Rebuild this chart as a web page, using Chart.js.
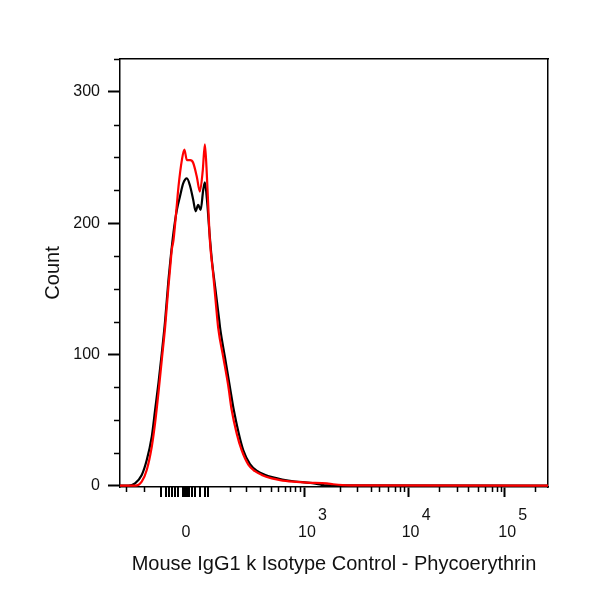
<!DOCTYPE html>
<html>
<head>
<meta charset="utf-8">
<script src="https://cdn.jsdelivr.net/npm/chart.js@4.4.1/dist/chart.umd.min.js"></script>
<style>
  html, body { margin: 0; padding: 0; background: #fff; }
  #wrap { width: 600px; height: 600px; position: relative; }
</style>
</head>
<body>
<div id="wrap"><canvas id="histo"></canvas></div>
<script>
// ================ data (x in display channels 0-1024, y in counts) ================
const blackChannel = [0, 20, 36, 52, 64, 76, 84, 92, 100, 108, 116, 120, 128, 136, 144, 151, 160, 167, 175, 181, 187, 193, 199, 203, 208, 214, 220, 227, 237, 240, 251, 263, 272, 284, 295, 311, 328, 345, 366, 388, 419, 455, 478, 495, 1024];
const blackCount   = [0, 0, 1.8, 8.2, 19.6, 37.4, 57.7, 78.1, 101, 126, 157, 170, 193, 210, 221, 230, 234, 229, 218, 209, 214, 210, 225, 231, 218, 193, 171, 153, 127, 119, 98, 75, 58, 40, 27, 16.5, 11.2, 8.5, 6.3, 4.7, 3.2, 2.1, 0.9, 0.2, 0];

const redChannel = [0, 36, 52, 64, 76, 84, 92, 100, 108, 116, 120, 124, 128, 136, 140, 148, 154, 160, 168, 175, 184, 191, 198, 203, 207, 211, 215, 223, 229, 235, 247, 259, 267, 279, 291, 307, 323, 339, 363, 383, 414, 447, 495, 510, 550, 1024];
const redCount   = [0, 0, 3.1, 12, 29.7, 47.8, 70.7, 95.9, 121, 152, 166, 180, 187, 214, 228, 248, 256, 248, 248, 246, 235, 224, 240, 260, 242, 214, 187, 161, 140, 120, 98, 76, 58, 40, 27, 16, 11, 8.2, 5.6, 4.3, 3.1, 2.3, 1.8, 1.1, 0.2, 0];

// axis ticks (x positions in display channels)
const xTickPos    = [158, 442, 690, 921];
const xTickLabels = ['0', '10^3', '10^4', '10^5'];
const xZeroTicks  = [99, 111, 117, 124, 131, 139, 151, 156, 160, 165, 172, 180, 191, 203, 211];
const xMinorTicks = [15, 57, 263, 302, 334, 362, 378, 394, 406, 418, 430,
                     526, 568, 600, 620, 640, 658, 670, 680,
                     764, 806, 833, 857, 873, 889, 901, 911, 993];
const yTickPos    = [0, 100, 200, 300];
const yMinorTicks = [25, 50, 75, 125, 150, 175, 225, 250, 275, 325];

const xTitle = 'Mouse IgG1 k Isotype Control - Phycoerythrin';
const yTitle = 'Count';

// ================ helpers ================
function toPoints(xs, ys) {
    return xs.map((x, i) => ({ x: x, y: ys[i] }));
}

// "10^3" -> two lines: exponent above, base below
function formatTick(label) {
    if (label.indexOf('^') < 0) return ['', label];
    const parts = label.split('^');
    return ['        ' + parts[1], ' ' + parts[0]];
}

const minorTicks = {
    id: 'minorTicks',
    afterDraw(chart) {
        const ctx = chart.ctx;
        const xs = chart.scales.x;
        const ys = chart.scales.y;
        ctx.save();
        ctx.strokeStyle = '#000';
        ctx.lineWidth = 1.5;
        ctx.beginPath();
        xMinorTicks.forEach(v => {
            const px = Math.round(xs.getPixelForValue(v)) + 0.5;
            ctx.moveTo(px, xs.top);
            ctx.lineTo(px, xs.top + 5);
        });
        yMinorTicks.forEach(v => {
            const py = Math.round(ys.getPixelForValue(v)) + 0.5;
            ctx.moveTo(ys.right, py);
            ctx.lineTo(ys.right - 6, py);
        });
        ctx.stroke();
        ctx.lineWidth = 2;
        ctx.beginPath();
        xZeroTicks.forEach(v => {
            const px = Math.round(xs.getPixelForValue(v));
            ctx.moveTo(px, xs.top);
            ctx.lineTo(px, xs.top + 10);
        });
        ctx.stroke();
        ctx.restore();
    }
};

Chart.defaults.font.family = '"Liberation Sans", Arial, sans-serif';
Chart.defaults.color = '#111';

const ctx = document.getElementById('histo').getContext('2d');
new Chart(ctx, {
    type: 'line',
    data: {
        datasets: [{
            label: 'PE',
            data: toPoints(redChannel, redCount),
            borderColor: '#ff0000',
            borderWidth: 2.2,
            pointRadius: 0,
            cubicInterpolationMode: 'monotone',
            fill: false,
            order: 0
        }, {
            label: 'Isotype',
            data: toPoints(blackChannel, blackCount),
            borderColor: '#000000',
            borderWidth: 2.2,
            pointRadius: 0,
            cubicInterpolationMode: 'monotone',
            fill: false,
            order: 1
        }]
    },
    options: {
        responsive: true,
        maintainAspectRatio: false,
        animation: false,
        layout: { padding: 0 },
        plugins: {
            legend: { display: false },
            tooltip: { enabled: false }
        },
        scales: {
            x: {
                type: 'linear',
                position: 'bottom',
                min: 0,
                max: 1024,
                afterFit: (s) => { s.height = 113; },
                afterBuildTicks: (s) => { s.ticks = xTickPos.map(v => ({ value: v })); },
                ticks: {
                    autoSkip: false,
                    maxRotation: 0,
                    padding: 10,
                    font: { size: 16, lineHeight: 1.05 },
                    color: '#111',
                    callback: (value, index) => formatTick(xTickLabels[index])
                },
                grid: {
                    display: true,
                    drawOnChartArea: false,
                    drawTicks: true,
                    tickLength: 10,
                    tickWidth: 2,
                    tickColor: '#000'
                },
                border: { display: true, color: '#000', width: 1.5 },
                title: {
                    display: true,
                    text: xTitle,
                    font: { size: 20 },
                    color: '#111',
                    padding: { top: 0, bottom: 24 }
                }
            },
            y: {
                type: 'linear',
                position: 'left',
                min: -1,
                max: 325,
                afterFit: (s) => { s.width = 120; },
                afterBuildTicks: (s) => { s.ticks = yTickPos.map(v => ({ value: v })); },
                ticks: {
                    padding: 8,
                    font: { size: 16 },
                    color: '#111'
                },
                grid: {
                    display: true,
                    drawOnChartArea: false,
                    drawTicks: true,
                    tickLength: 12,
                    tickWidth: 2,
                    tickColor: '#000'
                },
                border: { display: true, color: '#000', width: 1.5 },
                title: {
                    display: true,
                    text: yTitle,
                    font: { size: 20 },
                    color: '#111',
                    padding: { top: 41, bottom: 0 }
                }
            },
            xTop: {
                type: 'linear',
                position: 'top',
                min: 0,
                max: 1024,
                afterFit: (s) => { s.height = 59; },
                ticks: { display: false },
                grid: { display: false },
                border: { display: true, color: '#000', width: 1.5 }
            },
            yRight: {
                type: 'linear',
                position: 'right',
                min: -1,
                max: 325,
                afterFit: (s) => { s.width = 52; },
                ticks: { display: false },
                grid: { display: false },
                border: { display: true, color: '#000', width: 1.5 }
            }
        }
    },
    plugins: [minorTicks]
});
</script>
</body>
</html>
